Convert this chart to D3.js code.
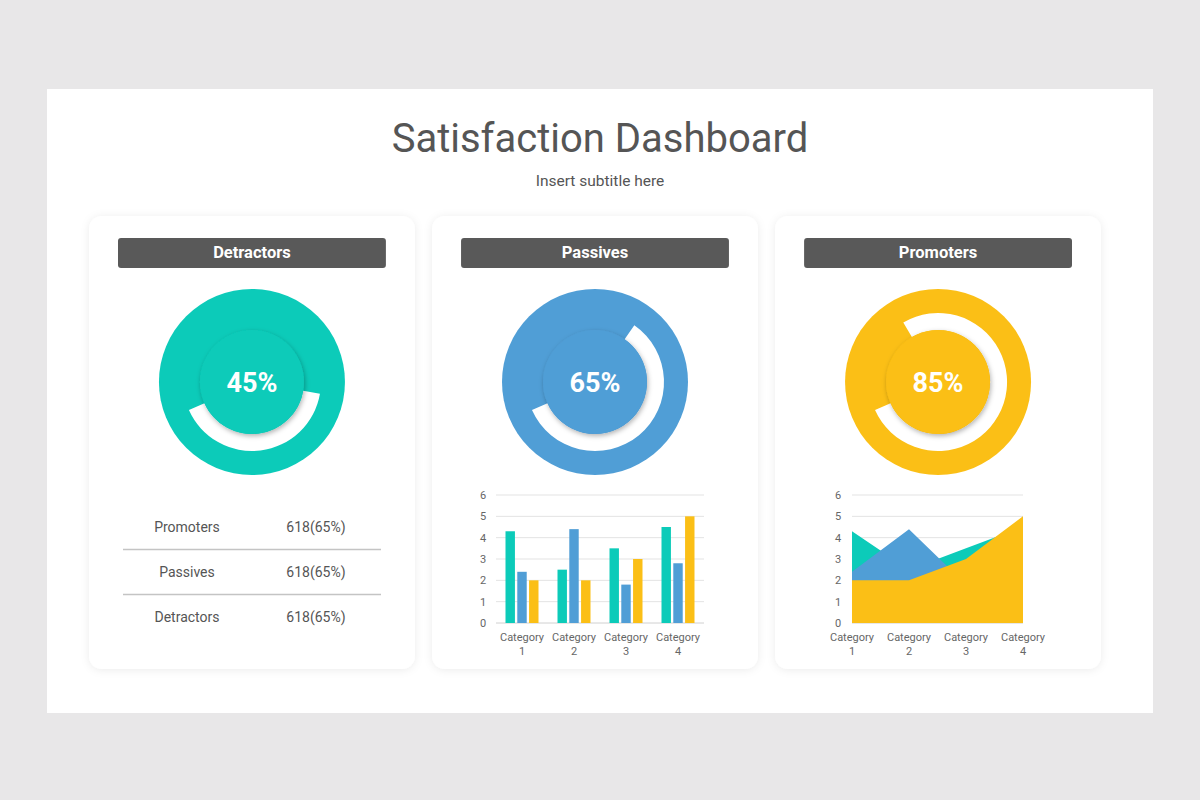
<!DOCTYPE html>
<html>
<head>
<meta charset="utf-8">
<style>
  body { margin: 0; background: #e8e7e8; font-family: Roboto, 'Open Sans', sans-serif; }
  svg { display: block; }
</style>
</head>
<body>
<svg width="1200" height="800"></svg>
<script src="https://d3js.org/d3.v7.min.js"></script>
<script>
// data
const cardTitles = ["Detractors", "Passives", "Promoters"];
const percents = [45, 65, 85];
const donutColors = ["#0ccbb9", "#509ed6", "#fbbf16"];

const tableLabels = ["Promoters", "Passives", "Detractors"];
const tableValues = ["618(65%)", "618(65%)", "618(65%)"];

const categories = ["Category 1", "Category 2", "Category 3", "Category 4"];
const series1 = [4.3, 2.5, 3.5, 4.5];
const series2 = [2.4, 4.4, 1.8, 2.8];
const series3 = [2, 2, 3, 5];
const seriesColors = ["#0ccbb9", "#509ed6", "#fbbf16"];
const yTicks = [0, 1, 2, 3, 4, 5, 6];

let svg = d3.select("svg");

// shadows
let defs = svg.append("defs");
let f = defs.append("filter").attr("id", "cardShadow").attr("x", -0.1).attr("y", -0.1).attr("width", 1.2).attr("height", 1.2);
f.append("feDropShadow").attr("dx", 0).attr("dy", 1).attr("stdDeviation", 4).attr("flood-color", "#000").attr("flood-opacity", 0.08);
let f2 = defs.append("filter").attr("id", "innerShadow").attr("x", -0.3).attr("y", -0.3).attr("width", 1.6).attr("height", 1.6);
f2.append("feDropShadow").attr("dx", 1).attr("dy", 2).attr("stdDeviation", 2.5).attr("flood-color", "#000").attr("flood-opacity", 0.3);

// slide
svg.append("rect").attr("x", 47).attr("y", 89).attr("width", 1106).attr("height", 624).attr("fill", "#fff");

svg.append("text").attr("x", 600).attr("y", 152).attr("text-anchor", "middle")
  .style("font-size", "40px").style("fill", "#555").text("Satisfaction Dashboard");
svg.append("text").attr("x", 600).attr("y", 186).attr("text-anchor", "middle")
  .style("font-size", "15.5px").style("fill", "#555").text("Insert subtitle here");

// cards
let cardX = d3.scaleBand().domain(cardTitles).range([89, 1101]).paddingInner(0.05);
let cards = svg.selectAll(".card").data(cardTitles).join("g")
  .attr("class", "card")
  .attr("transform", d => `translate(${cardX(d)},216)`);

cards.append("rect").attr("width", cardX.bandwidth()).attr("height", 453)
  .attr("rx", 13).attr("fill", "#fff").attr("filter", "url(#cardShadow)");
cards.append("rect").attr("x", 29).attr("y", 22).attr("width", cardX.bandwidth() - 58).attr("height", 30)
  .attr("rx", 3).attr("fill", "#595959");
cards.append("text").attr("x", cardX.bandwidth() / 2).attr("y", 42).attr("text-anchor", "middle")
  .style("font-size", "16.5px").style("font-weight", "bold").style("fill", "#fff").text(d => d);

// donuts
let sweep = d3.scaleLinear().domain([0, 100]).range([0, 325 * Math.PI / 180]);
let endAngle = 246 * Math.PI / 180;
let ringArc = d3.arc().innerRadius(52).outerRadius(69);

cards.each(function (d, i) {
  let g = d3.select(this).append("g").attr("transform", `translate(${cardX.bandwidth() / 2},166)`);
  g.append("circle").attr("r", 93).attr("fill", donutColors[i]);
  g.append("path").attr("fill", "#fff")
    .attr("d", ringArc({ startAngle: endAngle - sweep(percents[i]), endAngle: endAngle }));
  g.append("circle").attr("r", 52).attr("fill", donutColors[i]).attr("filter", "url(#innerShadow)");
  g.append("text").attr("y", 10).attr("text-anchor", "middle")
    .style("font-size", "27px").style("font-weight", "bold").style("fill", "#fff")
    .text(percents[i] + "%");
});

// table in first card
let tbl = cards.filter((d, i) => i === 0);
let rowY = d3.scalePoint().domain(tableLabels).range([311, 401]);
tbl.selectAll(".lab").data(tableLabels).join("text")
  .attr("x", 98).attr("y", d => rowY(d) + 5).attr("text-anchor", "middle")
  .style("font-size", "14px").style("fill", "#555").text(d => d);
tbl.selectAll(".val").data(tableValues).join("text")
  .attr("x", 227).attr("y", (d, i) => rowY(tableLabels[i]) + 5).attr("text-anchor", "middle")
  .style("font-size", "14px").style("fill", "#555").text(d => d);
tbl.selectAll(".sep").data(tableLabels.slice(0, 2)).join("line")
  .attr("x1", 34).attr("x2", 292)
  .attr("y1", (d, i) => (rowY(tableLabels[i]) + rowY(tableLabels[i + 1])) / 2)
  .attr("y2", (d, i) => (rowY(tableLabels[i]) + rowY(tableLabels[i + 1])) / 2)
  .style("stroke", "#c4c4c4").style("stroke-width", 1.5);

// shared y scale
let y = d3.scaleLinear().domain([0, 6]).range([623, 495]);

function drawGrid(x0, x1, labelX) {
  let g = svg.append("g");
  g.selectAll("line").data(yTicks).join("line")
    .attr("x1", x0).attr("x2", x1).attr("y1", d => y(d)).attr("y2", d => y(d))
    .style("stroke", d => d === 0 ? "#d0d0d0" : "#e3e3e3").style("stroke-width", 1);
  g.selectAll("text").data(yTicks).join("text")
    .attr("x", labelX).attr("y", d => y(d) + 4).attr("text-anchor", "middle")
    .style("font-size", "11px").style("fill", "#666").text(d => d);
  return g;
}

function catLabels(xFn) {
  let g = svg.append("g");
  let t = g.selectAll("text").data(categories).join("text")
    .attr("text-anchor", "middle").style("font-size", "11px").style("fill", "#666");
  t.append("tspan").attr("x", d => xFn(d)).attr("y", 641).text(d => d.split(" ")[0]);
  t.append("tspan").attr("x", d => xFn(d)).attr("y", 655).text(d => d.split(" ")[1]);
}

// bar chart
drawGrid(496, 704, 483);
let xb = d3.scaleBand().domain(categories).range([496, 704]);
let allSeries = [series1, series2, series3];
let xInner = d3.scaleBand().domain([0, 1, 2]).range([0, 33]).paddingInner(0.2);
let bars = svg.append("g");
allSeries.forEach((s, si) => {
  bars.selectAll(".b" + si).data(s).join("rect")
    .attr("x", (d, ci) => xb(categories[ci]) + xb.bandwidth() / 2 - 16.5 + xInner(si))
    .attr("y", d => y(d)).attr("width", xInner.bandwidth()).attr("height", d => y(0) - y(d))
    .attr("fill", seriesColors[si]);
});
catLabels(d => xb(d) + xb.bandwidth() / 2);

// area chart
drawGrid(852, 1023, 838);
let xp = d3.scalePoint().domain(categories).range([852, 1023]);
let area = d3.area().x((d, i) => xp(categories[i])).y0(y(0)).y1(d => y(d));
svg.append("g").selectAll("path").data(allSeries).join("path")
  .attr("d", area).attr("fill", (d, i) => seriesColors[i]);
catLabels(d => xp(d));
</script>
</body>
</html>
